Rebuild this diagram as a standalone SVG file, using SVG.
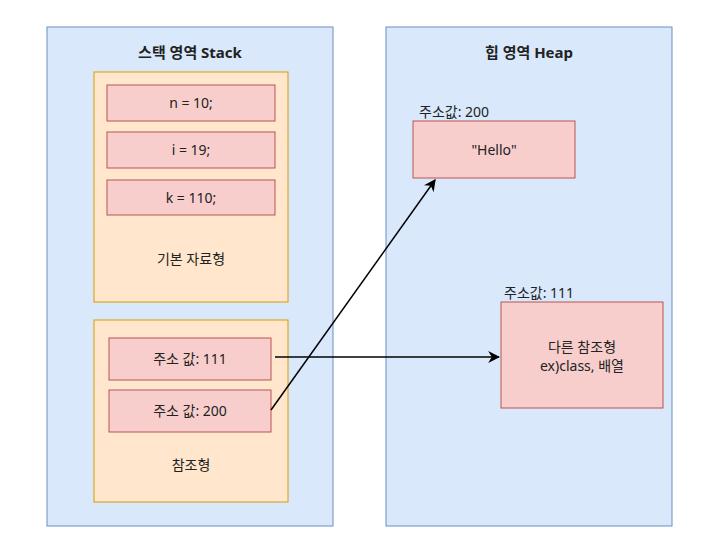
<svg xmlns="http://www.w3.org/2000/svg" width="718" height="550" viewBox="0 0 718 550">
<style>
text{font-family:"Noto Sans","Noto Sans CJK KR",sans-serif;font-size:14px;fill:#222;text-anchor:middle}
.c{fill:#dae8fc;stroke:#6c8ebf;stroke-width:1}
.o{fill:#ffe6cc;stroke:#d79b00;stroke-width:1}
.r{fill:#f8cecc;stroke:#b85450;stroke-width:1}
.t{font-weight:bold;font-size:15px}
.l{text-anchor:start}
</style>
<defs><marker id="a" viewBox="0 0 10 10" refX="9" refY="5" markerWidth="8" markerHeight="8" orient="auto"><path d="M0,0L10,5L0,10L3,5z" fill="#000"/></marker></defs>
<rect width="718" height="550" fill="#fff"/>
<g id="stack"><rect class="c" x="47" y="27" width="286" height="499"/><text class="t" x="190" y="58">스택 영역 Stack</text></g>
<g id="heap"><rect class="c" x="386" y="27" width="286" height="499"/><text class="t" x="529" y="58">힙 영역 Heap</text></g>
<g id="primitive"><rect class="o" x="94" y="72" width="194" height="230"/><text x="191" y="264">기본 자료형</text></g>
<g id="n"><rect class="r" x="107" y="85" width="168" height="36"/><text x="191" y="108">n = 10;</text></g>
<g id="i"><rect class="r" x="107" y="132" width="168" height="36"/><text x="191" y="155">i = 19;</text></g>
<g id="k"><rect class="r" x="107" y="180" width="168" height="35"/><text x="191" y="203">k = 110;</text></g>
<g id="reference"><rect class="o" x="94" y="320" width="194" height="182"/><text x="191" y="470">참조형</text></g>
<g id="addr111"><rect class="r" x="109" y="338" width="162" height="42"/><text x="190" y="364">주소 값: 111</text></g>
<g id="addr200"><rect class="r" x="109" y="390" width="162" height="42"/><text x="190" y="416">주소 값: 200</text></g>
<g id="hello"><text class="l" x="419" y="117">주소값: 200</text><rect class="r" x="413" y="121" width="162" height="57"/><text x="494" y="155">"Hello"</text></g>
<g id="other"><text class="l" x="504" y="298">주소값: 111</text><rect class="r" x="501" y="302" width="162" height="106"/><text x="582" y="352">다른 참조형</text><text x="582" y="371">ex)class, 배열</text></g>
<g id="connectors" stroke="#000" stroke-width="1.5" fill="none">
<path d="M275,357L499,357" marker-end="url(#a)"/>
<path d="M271,410L435,180" marker-end="url(#a)"/>
</g>
</svg>
